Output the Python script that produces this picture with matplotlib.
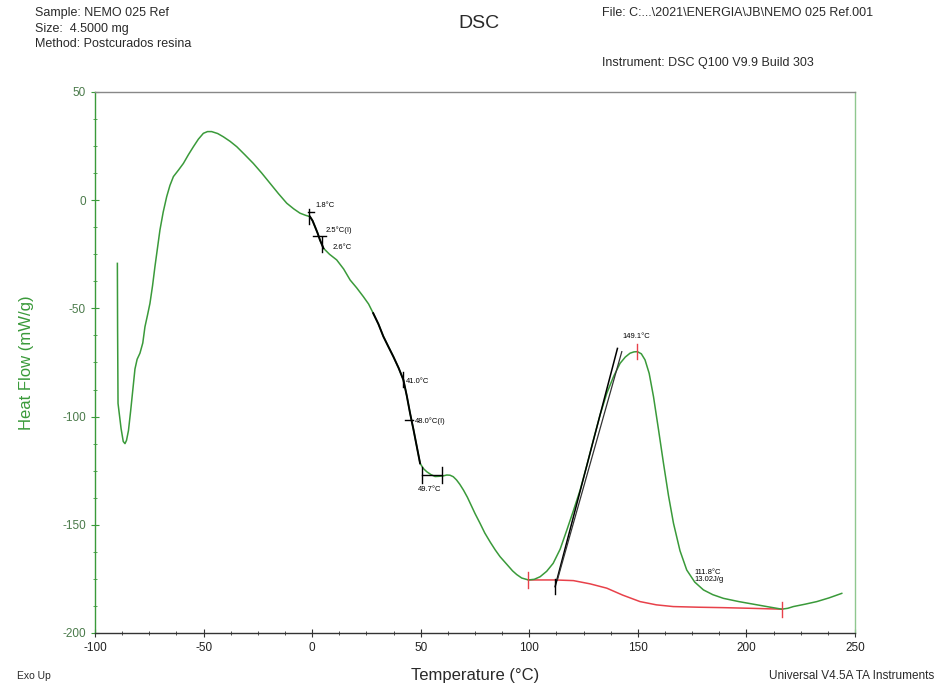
import numpy as np
import matplotlib
matplotlib.use("Agg")
import matplotlib.pyplot as plt
from matplotlib.ticker import MultipleLocator

plt.rcParams["font.family"] = ["Liberation Sans", "DejaVu Sans"]
plt.rcParams["axes.unicode_minus"] = False

# Heat flow curve (Temperature °C, Heat Flow mW/g)
temp = [-89.7, -89.6, -89.4, -88.8, -88.0, -87.0, -86.2, -85.5, -84.6, -83.6,
        -82.6, -81.6, -80.6, -79.3, -78.0, -77.0, -75.8, -74.7, -73.5, -72.4,
        -71.2, -70.1, -68.6, -67.0, -65.5, -63.9, -61.5, -59.3, -57.0, -54.7,
        -52.4, -50.1, -48.2, -46.3, -43.5, -40.9, -37.8, -34.7, -31.0, -27.1,
        -23.2, -19.4, -15.5, -11.7, -8.5, -5.6, -3.0, -1.0, 0.2, 1.3,
        2.5, 3.6, 5.2, 8.0, 11.3, 14.5, 17.5, 20.5, 23.6, 26.0,
        28.1, 30.5, 32.8, 35.0, 37.4, 39.8, 42.0, 43.6, 45.1, 46.7,
        48.2, 49.7, 51.2, 52.8, 54.7, 56.6, 58.5, 60.4, 62.0, 63.5,
        65.0, 66.5, 68.0, 69.7, 71.5, 73.0, 75.0, 77.3, 79.5, 82.0,
        84.3, 86.5, 88.5, 90.5, 92.3, 94.2, 96.5, 99.6, 102.3, 105.0,
        108.0, 111.0, 114.2, 117.3, 120.3, 123.4, 126.5, 129.5, 132.6, 135.7,
        138.8, 141.8, 144.2, 146.4, 148.2, 149.8, 151.6, 153.3, 155.2, 157.2,
        159.5, 161.8, 164.1, 166.4, 169.4, 172.5, 176.2, 180.2, 184.5, 189.4,
        196.5, 204.8, 210.5, 216.3, 219.0, 221.6, 227.0, 232.4, 238.0, 243.9]
heat_flow = [-29.2, -60.0, -93.9, -99.0, -105.5, -111.5, -112.5, -111.0, -106.5, -97.5,
             -87.7, -78.0, -73.5, -70.7, -66.0, -58.5, -53.0, -47.7, -39.5, -30.7,
             -22.0, -13.8, -5.5, 1.6, 6.8, 10.9, 14.0, 17.0, 21.0, 24.7,
             28.2, 30.9, 31.7, 31.7, 30.8, 29.3, 27.2, 24.7, 21.0, 17.0,
             12.5, 7.8, 3.0, -1.4, -4.0, -6.0, -7.0, -7.6, -9.5, -12.2,
             -15.2, -18.4, -22.2, -25.0, -27.6, -31.8, -36.9, -40.5, -44.6, -48.0,
             -52.2, -57.2, -63.0, -67.5, -72.3, -77.5, -83.0, -90.5, -98.5, -106.2,
             -113.9, -121.6, -124.0, -125.5, -126.8, -127.7, -127.6, -127.4, -127.0, -127.1,
             -127.8, -129.3, -131.3, -134.0, -137.3, -140.5, -144.8, -149.3, -153.8, -158.0,
             -161.6, -164.7, -167.0, -169.3, -171.3, -173.0, -174.6, -175.5, -175.2, -174.0,
             -171.5, -167.8, -161.3, -152.4, -143.5, -134.0, -122.5, -110.8, -99.2, -89.2,
             -81.5, -75.4, -72.5, -70.7, -70.1, -70.0, -71.0, -73.8, -80.0, -90.8,
             -106.0, -121.6, -136.5, -149.3, -162.0, -170.9, -176.5, -180.1, -182.3, -184.0,
             -185.5, -187.0, -188.0, -189.0, -188.6, -187.8, -186.7, -185.5, -183.8, -181.7]

# integration baseline (red)
base_temp = [99.6, 111.9, 120.3, 128.0, 135.7, 143.0, 151.0, 158.5, 166.3, 178.0, 189.4, 202.0, 216.3]
base_hf = [-175.5, -175.5, -175.8, -177.3, -179.3, -182.5, -185.5, -187.0, -187.8, -188.1, -188.3, -188.6, -189.0]

# analysed regions of the curve (drawn black)
tg1_range = (-1.2, 5.2)
tg2_range = (28.0, 49.8)
# onset tangents of the exotherm
tang_t = [111.9, 140.6]
tang_hf = [-178.6, -68.5]
tang2_t = [112.9, 142.6]
tang2_hf = [-175.6, -70.0]

green = "#3a9a3a"
red = "#e8414a"

fig = plt.figure(figsize=(9.37, 6.86), dpi=100)
ax = fig.add_axes([0.1014, 0.0773, 0.8111, 0.7886])

ax.plot(temp, heat_flow, color=green, lw=1.1, zorder=3)
ax.plot(base_temp, base_hf, color=red, lw=1.1, zorder=2)

t_arr = np.array(temp)
hf_arr = np.array(heat_flow)
for lo, hi in (tg1_range, tg2_range):
    m = (t_arr >= lo) & (t_arr <= hi)
    ax.plot(t_arr[m], hf_arr[m], color="black", lw=1.4, zorder=4)

ax.plot(tang_t, tang_hf, color="black", lw=1.1, zorder=4)
ax.plot(tang2_t, tang2_hf, color="#333333", lw=0.9, zorder=4)


# little marker ticks
def vtick(x, y, c="black", h=3.5):
    ax.plot([x, x], [y - h, y + h], color=c, lw=1.0, zorder=5)


def htick(x, y, c="black", w=3.0):
    ax.plot([x - w, x + w], [y, y], color=c, lw=1.0, zorder=5)


vtick(-1.3, -7.5)
htick(-0.5, -5.5, w=1.5)
htick(3.2, -16.5, w=3.0)
vtick(4.6, -20.5)
vtick(41.9, -83.0)
htick(44.6, -101.6, w=2.0)
ax.plot([50.5, 59.7], [-127.0, -127.0], color="black", lw=1.0, zorder=5)
vtick(50.5, -127.0)
vtick(59.7, -127.0)
vtick(99.6, -175.5, c=red)
vtick(149.8, -70.0, c=red)
vtick(216.3, -189.0, c=red)
vtick(111.9, -178.6)

fs = 5.5
ax.text(1.5, -3.0, "1.8°C", fontsize=fs)
ax.text(6.0, -14.5, "2.5°C(I)", fontsize=fs)
ax.text(9.5, -22.5, "2.6°C", fontsize=fs)
ax.text(43.0, -84.0, "41.0°C", fontsize=fs, va="center")
ax.text(47.5, -102.0, "48.0°C(I)", fontsize=fs, va="center")
ax.text(54.0, -132.0, "49.7°C", fontsize=fs, ha="center", va="top")
ax.text(149.5, -63.5, "149.1°C", fontsize=fs, ha="center")
ax.text(176.0, -176.0, "111.8°C\n13.02J/g", fontsize=fs, linespacing=1.0)

ax.set_xlim(-100, 250)
ax.set_ylim(-200, 50)
ax.xaxis.set_major_locator(MultipleLocator(50))
ax.xaxis.set_minor_locator(MultipleLocator(12.5))
ax.yaxis.set_major_locator(MultipleLocator(50))
ax.yaxis.set_minor_locator(MultipleLocator(12.5))
ax.tick_params(which="both", direction="inout", labelsize=8.5)
ax.tick_params(which="major", length=6)
ax.tick_params(which="minor", length=3)
ax.tick_params(axis="y", which="both", colors=green, labelcolor="#4a7a4a")
ax.tick_params(axis="x", which="both", colors="#333333", labelcolor="#222222")

ax.spines["left"].set_color(green)
ax.spines["right"].set_color("#8fc78f")
ax.spines["top"].set_color("#888888")
ax.spines["bottom"].set_color("#333333")
for s in ax.spines.values():
    s.set_linewidth(1.0)

ax.set_ylabel("Heat Flow (mW/g)", fontsize=12, color=green, labelpad=20)

# header and footer texts
hfs = 9
hc = "#2a2a2a"
fig.text(0.037, 0.981, "Sample: NEMO 025 Ref", fontsize=hfs, color=hc, va="center")
fig.text(0.037, 0.958, "Size:  4.5000 mg", fontsize=hfs, color=hc, va="center")
fig.text(0.037, 0.936, "Method: Postcurados resina", fontsize=hfs, color=hc, va="center")
fig.text(0.511, 0.966, "DSC", fontsize=14, color=hc, ha="center", va="center")
fig.text(0.643, 0.981, "File: C:...\\2021\\ENERGIA\\JB\\NEMO 025 Ref.001", fontsize=hfs, color=hc, va="center")
fig.text(0.643, 0.908, "Instrument: DSC Q100 V9.9 Build 303", fontsize=hfs, color=hc, va="center")
fig.text(0.018, 0.0146, "Exo Up", fontsize=7.5, color=hc, va="center")
fig.text(0.507, 0.0146, "Temperature (°C)", fontsize=12, color=hc, ha="center", va="center")
fig.text(0.997, 0.0146, "Universal V4.5A TA Instruments", fontsize=8.5, color=hc, ha="right", va="center")

fig.savefig("out.png", dpi=100)
